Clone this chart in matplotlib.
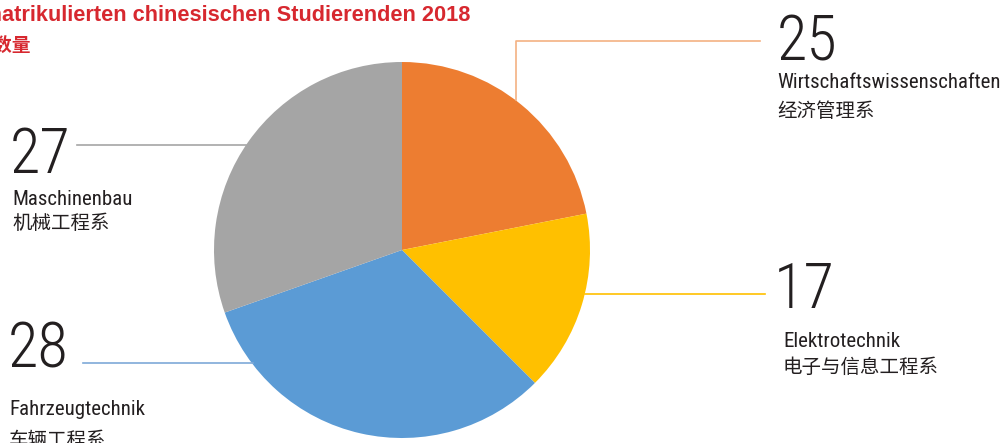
import matplotlib
matplotlib.use("Agg")
import matplotlib.pyplot as plt
from matplotlib import font_manager

# counts shown in the labels
counts = [25, 17, 28, 27]
# slice shares (%) as drawn in the picture
shares = [21.9, 15.6, 32.1, 30.4]
names_de = ["Wirtschaftswissenschaften", "Elektrotechnik", "Fahrzeugtechnik", "Maschinenbau"]
names_zh = ["经济管理系", "电子与信息工程系", "车辆工程系", "机械工程系"]
colors = ["#ED7D31", "#FFC000", "#5B9BD5", "#A5A5A5"]
line_colors = ["#F4B183", "#FFC000", "#7EA9D8", "#A5A5A5"]

# pick a narrow font if one is around
names = {f.name for f in font_manager.fontManager.ttflist}
narrow = None
for cand in ["Liberation Sans Narrow", "Roboto Condensed", "Open Sans Condensed",
             "DejaVu Sans Condensed"]:
    if cand in names:
        narrow = dict(family=[cand, "DejaVu Sans"])
        break
if narrow is None:
    cond = [f for f in font_manager.fontManager.ttflist
            if f.name == "DejaVu Sans" and str(f.stretch) in ("condensed", "semi-condensed")]
    if cond:
        narrow = dict(family=["DejaVu Sans"], stretch="condensed")
    else:
        narrow = dict(family=["Roboto", "DejaVu Sans"])

W, H = 1000, 443
fig = plt.figure(figsize=(W / 100, H / 100), dpi=100)
ax = fig.add_axes([0, 0, 1, 1])


def Y(y):
    return H - y


ax.pie(shares, colors=colors, startangle=90, counterclock=False,
       center=(402, Y(250)), radius=188, frame=True,
       wedgeprops=dict(linewidth=0))
ax.set_xlim(0, W)
ax.set_ylim(0, H)
ax.set_aspect("equal")
ax.axis("off")

# leader lines
ax.plot([515.7, 515.7, 760], [Y(100), Y(41), Y(41)], color=line_colors[0], lw=1.2)
ax.plot([585, 765], [Y(294.3), Y(294.3)], color=line_colors[1], lw=1.2)
ax.plot([83, 253], [Y(362.5), Y(362.5)], color=line_colors[2], lw=1.2)
ax.plot([77, 246], [Y(145), Y(145)], color=line_colors[3], lw=1.2)

cjk_font = ["Noto Sans CJK SC", "DejaVu Sans"]
txt = "#231F20"

# (x number, baseline number, x label, baseline label, y center chinese)
spots = [(777, 60, 777, 88, 111),
         (774, 308, 783, 347, 367),
         (8, 368, 9, 415, 440),
         (10, 173, 12, 205, 223)]
for i, (xn, yn, xl, yl, yc) in enumerate(spots):
    ax.text(xn, Y(yn), str(counts[i]), fontsize=45, weight="light",
            color=txt, va="baseline", ha="left", **narrow)
    ax.text(xl, Y(yl), names_de[i], fontsize=15, weight="normal",
            color=txt, va="baseline", ha="left", **narrow)
    ax.text(xl, Y(yc), names_zh[i], fontsize=14, family=cjk_font, weight="medium",
            color=txt, va="center", ha="left")

red = "#D7282F"
ax.text(470, Y(20.7), "Anzahl der immatrikulierten chinesischen Studierenden 2018",
        fontsize=15.7, fontweight="bold", family=["Liberation Sans", "DejaVu Sans"],
        color=red, ha="right", va="baseline")
ax.text(31, Y(45), "中国学生数量", fontsize=13.5, fontweight="bold",
        family=cjk_font, color=red, ha="right", va="center")

fig.savefig("out.png", dpi=100)
